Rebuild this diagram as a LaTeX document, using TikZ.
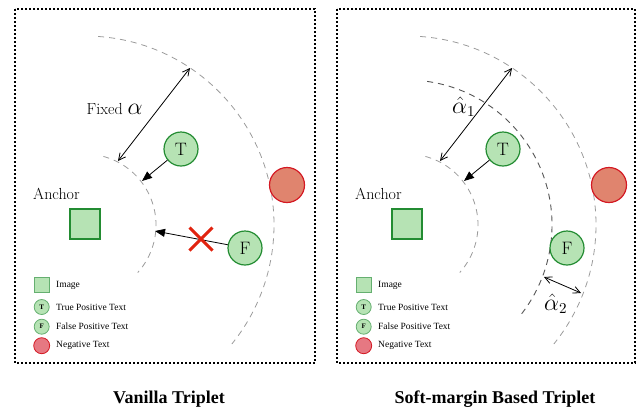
\documentclass[tikz,border=0pt]{standalone}
\usepackage{graphicx}
\usepackage{fontspec}
\newfontfamily\tnr{Liberation Serif}
\usetikzlibrary{arrows.meta,shapes.misc}
\definecolor{gfill}{RGB}{182,227,180}
\definecolor{gdraw}{RGB}{35,140,50}
\definecolor{nfill}{RGB}{224,132,110}
\definecolor{ndraw}{RGB}{212,25,35}
\definecolor{lnfill}{RGB}{230,120,130}
\definecolor{arcgray}{RGB}{155,155,155}
\definecolor{arcdark}{RGB}{85,85,85}
\definecolor{xred}{RGB}{225,35,15}
\newcommand{\bigmath}[1]{\scalebox{1.375}{$#1$}}
\begin{document}
\begin{tikzpicture}[x=1pt,y=-1pt,
 panel/.style={draw=black, line width=1.9pt, dash pattern=on 2pt off 2pt},
 arcline/.style={draw=arcgray, line width=0.8pt, dash pattern=on 6pt off 5pt},
 arcmid/.style={draw=arcdark, line width=0.9pt, dash pattern=on 6pt off 5pt},
 txt/.style={circle, draw=gdraw, fill=gfill, line width=1.2pt, minimum size=34pt, inner sep=0pt, font=\fontsize{18}{18}\selectfont},
 neg/.style={circle, draw=ndraw, fill=nfill, line width=1.2pt, minimum size=35pt, inner sep=0pt},
 anc/.style={rectangle, draw=gdraw, fill=gfill, line width=1.2pt, minimum size=30pt, inner sep=0pt},
 lsq/.style={rectangle, draw=gdraw!70, fill=gfill, line width=0.8pt, minimum size=15pt, inner sep=0pt},
 lcirc/.style={circle, draw=gdraw!70, fill=gfill, line width=0.8pt, minimum size=15pt, inner sep=0pt, font=\tnr\bfseries\fontsize{7}{7}\selectfont},
 lneg/.style={circle, draw=ndraw, fill=lnfill, line width=0.8pt, minimum size=16pt, inner sep=0pt},
 ltext/.style={anchor=west, font=\tnr\fontsize{9.5}{10}\selectfont, inner sep=0pt},
 big/.style={font=\fontsize{16}{18}\selectfont, inner sep=0pt, anchor=base west},
 title/.style={font=\tnr\bfseries\fontsize{18}{20}\selectfont, inner sep=0pt, anchor=base},
 dbl/.style={{Straight Barb[length=7pt,width=7pt]}-{Straight Barb[length=7pt,width=7pt]}, line width=0.8pt},
 push/.style={-{Triangle[length=10pt,width=8pt]}, line width=0.8pt},
 xmark/.style={cross out, draw=xred, line width=3pt, minimum size=20pt, inner sep=0pt},
]
\useasboundingbox (0,0) rectangle (637,413);

% ---------------- left panel ----------------
\draw[panel] (15,9) rectangle (315,363);
\draw[arcline] (85,225) ++(-75:71) arc (-75:42:71);
\draw[arcline] (85,225) ++(-86:189) arc (-86:39:189);

\node[anc] (LA) at (85,224) {};
\node[big] (LAl) at (33,199) {Anchor};
\node[txt] (LT) at (181,149) {T};
\node[txt] (LF) at (245,248) {F};
\node[neg] (LN) at (287,185) {};

\coordinate (La1) at (118,161);
\coordinate (La2) at (190,68);
\draw[dbl] (La1) -- (La2);
\node[big] (Lfix) at (86.5,114.5) {Fixed \bigmath{\alpha}};

\coordinate (LTe) at (142,181);
\draw[push] (LT) -- (LTe);
\coordinate (LFe) at (155,231);
\draw[push] (LF) -- (LFe);
\node[xmark] (LX) at (201,239) {};

\node[lsq] (Lk1) at (41.5,284.7) {};
\node[ltext] (Lk1t) at (56,285) {Image};
\node[lcirc] (Lk2) at (41.7,307) {T};
\node[ltext] (Lk2t) at (56,307) {True Positive Text};
\node[lcirc] (Lk3) at (41.7,326.7) {F};
\node[ltext] (Lk3t) at (56,326.7) {False Positive Text};
\node[lneg] (Lk4) at (41.7,345.7) {};
\node[ltext] (Lk4t) at (56,345.7) {Negative Text};

\node[title] (Ltitle) at (169,403) {Vanilla Triplet};

% ---------------- right panel ----------------
\draw[panel] (337,9) rectangle (635,363);
\draw[arcline] (407,225) ++(-75:71) arc (-75:42:71);
\draw[arcline] (407,225) ++(-86:189) arc (-86:39:189);
\draw[arcmid] (407,225) ++(-82:145) arc (-82:39:145);

\node[anc] (RA) at (407,224) {};
\node[big] (RAl) at (355,199) {Anchor};
\node[txt] (RT) at (503,149) {T};
\node[txt] (RF) at (567,248) {F};
\node[neg] (RN) at (609,185) {};

\coordinate (Ra1) at (440,161);
\coordinate (Ra2) at (512,68);
\draw[dbl] (Ra1) -- (Ra2);
\node[big] (Ral1) at (452,113) {\bigmath{\hat{\alpha}_1}};

\coordinate (RTe) at (464,181);
\draw[push] (RT) -- (RTe);

\coordinate (Rb1) at (544,277);
\coordinate (Rb2) at (581,293);
\draw[dbl] (Rb1) -- (Rb2);
\node[big] (Ral2) at (544,310) {\bigmath{\hat{\alpha}_2}};

\node[lsq] (Rk1) at (363.5,284.7) {};
\node[ltext] (Rk1t) at (378,285) {Image};
\node[lcirc] (Rk2) at (363.7,307) {T};
\node[ltext] (Rk2t) at (378,307) {True Positive Text};
\node[lcirc] (Rk3) at (363.7,326.7) {F};
\node[ltext] (Rk3t) at (378,326.7) {False Positive Text};
\node[lneg] (Rk4) at (363.7,345.7) {};
\node[ltext] (Rk4t) at (378,345.7) {Negative Text};

\node[title] (Rtitle) at (495,403) {Soft-margin Based Triplet};
\end{tikzpicture}
\end{document}
